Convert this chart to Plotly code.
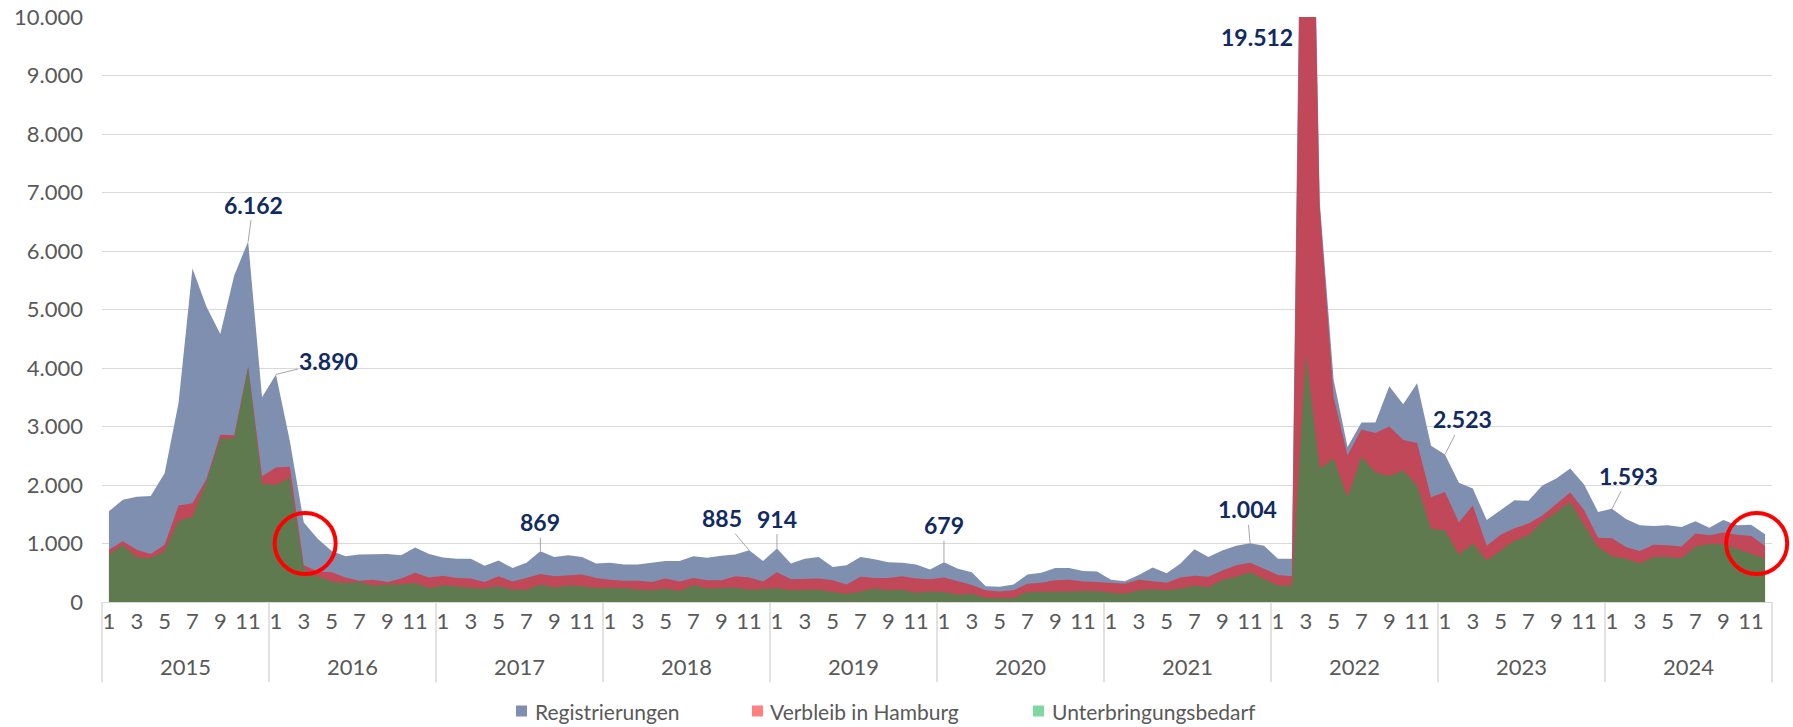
import plotly.graph_objects as go

# ---------------- data ----------------
years = [2015, 2016, 2017, 2018, 2019, 2020, 2021, 2022, 2023, 2024]
months = list(range(1, 13))

registrierungen = [
    1550, 1750, 1800, 1810, 2200, 3400, 5700, 5050, 4580, 5580, 6162, 3500,   # 2015
    3890, 2750, 1360, 1080, 870, 780, 810, 810, 820, 800, 930, 820,           # 2016
    760, 740, 740, 620, 710, 580, 670, 869, 770, 800, 770, 660,               # 2017
    670, 640, 640, 670, 700, 700, 780, 755, 790, 810, 885, 700,               # 2018
    914, 660, 740, 770, 600, 630, 770, 730, 680, 670, 640, 555,               # 2019
    679, 570, 510, 270, 260, 300, 470, 500, 580, 580, 530, 520,               # 2020
    380, 355, 460, 590, 490, 660, 900, 770, 880, 960, 1004, 960,              # 2021
    740, 740, 19512, 6850, 3800, 2650, 3070, 3070, 3690, 3380, 3740, 2670,    # 2022
    2523, 2040, 1940, 1400, 1570, 1740, 1730, 1990, 2110, 2280, 2010, 1540,   # 2023
    1593, 1420, 1310, 1300, 1310, 1280, 1380, 1270, 1400, 1310, 1320, 1160,   # 2024
]
verbleib = [
    895, 1040, 895, 820, 980, 1650, 1690, 2100, 2860, 2850, 4030, 2150,
    2300, 2310, 630, 520, 510, 420, 365, 380, 340, 400, 500, 420,
    450, 410, 400, 340, 440, 350, 410, 480, 440, 460, 470, 410,
    380, 365, 365, 340, 400, 350, 410, 370, 370, 440, 420, 350,
    510, 390, 390, 400, 370, 300, 430, 410, 410, 440, 400, 390,
    420, 360, 290, 200, 180, 200, 310, 330, 370, 380, 350, 340,
    330, 310, 380, 350, 330, 420, 450, 430, 540, 630, 670, 570,
    460, 440, 18500, 6750, 3500, 2510, 2950, 2890, 3000, 2770, 2720, 1790,
    1880, 1360, 1650, 960, 1150, 1260, 1340, 1480, 1680, 1870, 1570, 1100,
    1090, 940, 870, 980, 970, 950, 1170, 1140, 1190, 1150, 1130, 960,
]
unterbringung = [
    820, 970, 760, 750, 870, 1390, 1460, 2050, 2790, 2800, 4000, 2020,
    2000, 2120, 570, 440, 350, 325, 340, 280, 300, 300, 325, 240,
    280, 270, 240, 230, 270, 210, 210, 300, 250, 280, 270, 240,
    240, 240, 210, 200, 230, 190, 290, 230, 240, 250, 210, 220,
    235, 200, 200, 210, 170, 140, 180, 230, 200, 210, 160, 180,
    170, 130, 140, 70, 70, 70, 170, 170, 180, 180, 190, 190,
    160, 140, 200, 220, 200, 230, 280, 250, 380, 430, 510, 400,
    280, 280, 4245, 2280, 2450, 1790, 2480, 2220, 2150, 2250, 1990, 1250,
    1225, 810, 1000, 710, 880, 1050, 1140, 1370, 1540, 1710, 1310, 940,
    780, 740, 660, 770, 770, 750, 950, 990, 990, 910, 830, 740,
]
series_names = ["Registrierungen", "Verbleib in Hamburg", "Unterbringungsbedarf"]

# labelled points: (year, month)
labelled = [(2015, 11), (2016, 1), (2017, 8), (2018, 11), (2019, 1),
            (2020, 1), (2021, 11), (2023, 1), (2024, 1)]
peak_label = (2022, 3)
highlight_points = [(2016, 3.1, 1000), (2024, 11.4, 1000)]

# ---------------- styling ----------------
FONT = "Lato, 'Open Sans', sans-serif"
GREY = "#595959"
NAVY = "#112a61"
GRID = "#d9d9d9"
area_colors = ["#7f8fb0", "#c04858", "#607a50"]
legend_colors = ["#7f8fb0", "#ff8080", "#80d8a0"]
label_offsets = [(5, -37), (53, -13), (0, -29), (-27, -32), (0, -30),
                 (0, -37), (-3, -34), (18, -35), (17, -33)]

W, H = 1793, 727
ML, MR, MT, MB = 102, 21, 17, 125
PW = W - ML - MR
PH = H - MT - MB
YMAX = 10000

n = len(registrierungen)
x = list(range(n))
month_of = [months[i % 12] for i in x]


def idx(year, month):
    return years.index(year) * 12 + (month - 1)


def de(v):
    return f"{v:,}".replace(",", ".")


def px_to_paper_x(px):
    return (px - ML) / PW


def px_to_paper_y(py):
    return (MT + PH - py) / PH


fig = go.Figure()
for vals, name, col in zip([registrierungen, verbleib, unterbringung], series_names, area_colors):
    fig.add_trace(go.Scatter(
        x=x, y=vals, name=name, mode="lines", fill="tozeroy",
        line=dict(width=0, color=col), fillcolor=col, showlegend=False,
    ))

shapes = []
annotations = []

# year dividers and labels
for k in range(len(years) + 1):
    b = (k * 12) / n
    shapes.append(dict(type="line", xref="paper", yref="paper", x0=b, x1=b,
                       y0=0, y1=-0.137, line=dict(color=GRID, width=1.5)))
for k, yr in enumerate(years):
    annotations.append(dict(x=k * 12 + 5.5, y=-0.111, xref="x", yref="paper",
                            text=str(yr), showarrow=False,
                            font=dict(family=FONT, size=22, color=GREY),
                            xanchor="center", yanchor="middle"))

# data labels
for (yr, mo), (ax, ay) in zip(labelled, label_offsets):
    i = idx(yr, mo)
    annotations.append(dict(x=i, y=registrierungen[i], xref="x", yref="y",
                            text=de(registrierungen[i]), showarrow=True,
                            arrowhead=0, arrowwidth=1, arrowcolor="#a6a6a6",
                            ax=ax, ay=ay, standoff=0,
                            font=dict(family=FONT, size=23, color=NAVY, weight="bold")))
i = idx(*peak_label)
annotations.append(dict(x=i, y=YMAX, xref="x", yref="y", text=de(registrierungen[i]),
                        showarrow=False, xanchor="right", yanchor="middle",
                        xshift=-11, yshift=-20,
                        font=dict(family=FONT, size=23, color=NAVY, weight="bold")))

# highlight circles
for yr, mo, val in highlight_points:
    xi = (idx(yr, 1) + mo - 1 + 0.5) / n
    shapes.append(dict(type="circle", xref="paper", yref="paper",
                       xsizemode="pixel", ysizemode="pixel",
                       xanchor=xi, yanchor=val / YMAX,
                       x0=-30.5, x1=30.5, y0=-30.5, y1=30.5,
                       line=dict(color="#ff0000", width=4)))

# custom legend
legend_px = [(516, 533), (752, 768), (1033, 1050)]
ly = px_to_paper_y(711)
for (sq, tx), name, col in zip(legend_px, series_names, legend_colors):
    shapes.append(dict(type="rect", xref="paper", yref="paper",
                       x0=px_to_paper_x(sq), x1=px_to_paper_x(sq + 11),
                       y0=ly - 5.5 / PH, y1=ly + 5.5 / PH,
                       fillcolor=col, line=dict(width=0)))
    annotations.append(dict(x=px_to_paper_x(tx), y=ly, xref="paper", yref="paper",
                            text=name, showarrow=False, xanchor="left", yanchor="middle",
                            font=dict(family=FONT, size=21, color=GREY)))

tickvals = [i for i in x if month_of[i] % 2 == 1]
ticktext = [str(month_of[i]) for i in tickvals]

fig.update_layout(
    width=W, height=H,
    margin=dict(l=ML, r=MR, t=MT, b=MB, pad=0, autoexpand=False),
    paper_bgcolor="white", plot_bgcolor="white",
    separators=",.",
    showlegend=False,
    shapes=shapes, annotations=annotations,
    font=dict(family=FONT, color=GREY),
    xaxis=dict(range=[-0.5, n - 0.5], tickmode="array", tickvals=tickvals,
               ticktext=ticktext, showgrid=False, zeroline=False, showline=False,
               ticks="", ticklabelstandoff=4, automargin=False,
               tickfont=dict(family=FONT, size=22, color=GREY)),
    yaxis=dict(range=[0, YMAX], dtick=1000, tick0=0, tickformat=",d",
               showgrid=True, gridcolor=GRID, gridwidth=1,
               zeroline=True, zerolinecolor=GRID, zerolinewidth=1,
               showline=False, ticks="", ticklabelstandoff=18, automargin=False,
               tickfont=dict(family=FONT, size=22, color=GREY)),
)

fig.write_html(
    "out.html",
    config={"displayModeBar": False},
    post_script="document.body.style.margin='0px';document.body.style.overflow='hidden';",
)
